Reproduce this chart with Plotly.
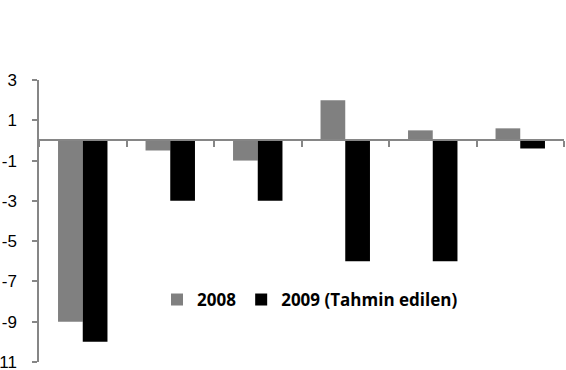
import plotly.graph_objects as go

categories = ["1", "2", "3", "4", "5", "6"]
series_2008 = [-9, -0.5, -1, 2, 0.5, 0.6]
series_2009 = [-10, -3, -3, -6, -6, -0.4]
y_ticks = [3, 1, -1, -3, -5, -7, -9, -11]
name_2008 = "2008"
name_2009 = "2009 (Tahmin edilen)"

AXIS = "#868686"

fig = go.Figure()
fig.add_trace(go.Bar(x=categories, y=series_2008, name=name_2008,
                     marker=dict(color="#808080", line=dict(width=0))))
fig.add_trace(go.Bar(x=categories, y=series_2009, name=name_2009,
                     marker=dict(color="#000000", line=dict(width=0))))

fig.update_layout(
    width=566, height=370,
    margin=dict(l=39, r=2, t=80, b=8),
    paper_bgcolor="white", plot_bgcolor="white",
    barmode="group", bargap=0.435, bargroupgap=0,
    font=dict(family="Liberation Sans", size=17, color="black"),
    showlegend=True,
    legend=dict(orientation="h", x=0.2248, y=0.22, xanchor="left", yanchor="middle",
                font=dict(family="Open Sans", size=17, color="black", weight="bold"),
                bgcolor="rgba(0,0,0,0)", itemwidth=30, traceorder="normal"),
    xaxis=dict(type="category", showticklabels=False, showgrid=False,
               showline=True, linecolor=AXIS, linewidth=1.5,
               ticks="outside", tickson="boundaries", ticklen=6, tickcolor=AXIS,
               tickwidth=1.5, anchor="free", position=11/14, zeroline=False),
    yaxis=dict(range=[-11, 3], tickvals=y_ticks, ticktext=[str(v) for v in y_ticks],
               tickfont=dict(family="Liberation Sans", size=17, color="black"),
               showgrid=False, zeroline=False, showline=True, linecolor=AXIS,
               linewidth=1.5, ticks="outside", ticklen=5, tickcolor=AXIS, tickwidth=1.5,
               automargin=False, ticklabelstandoff=12, ticklabeloverflow="allow"),
)

fig.write_html("out.html", config={"displayModeBar": False},
               post_script="document.body.style.margin='0';")
